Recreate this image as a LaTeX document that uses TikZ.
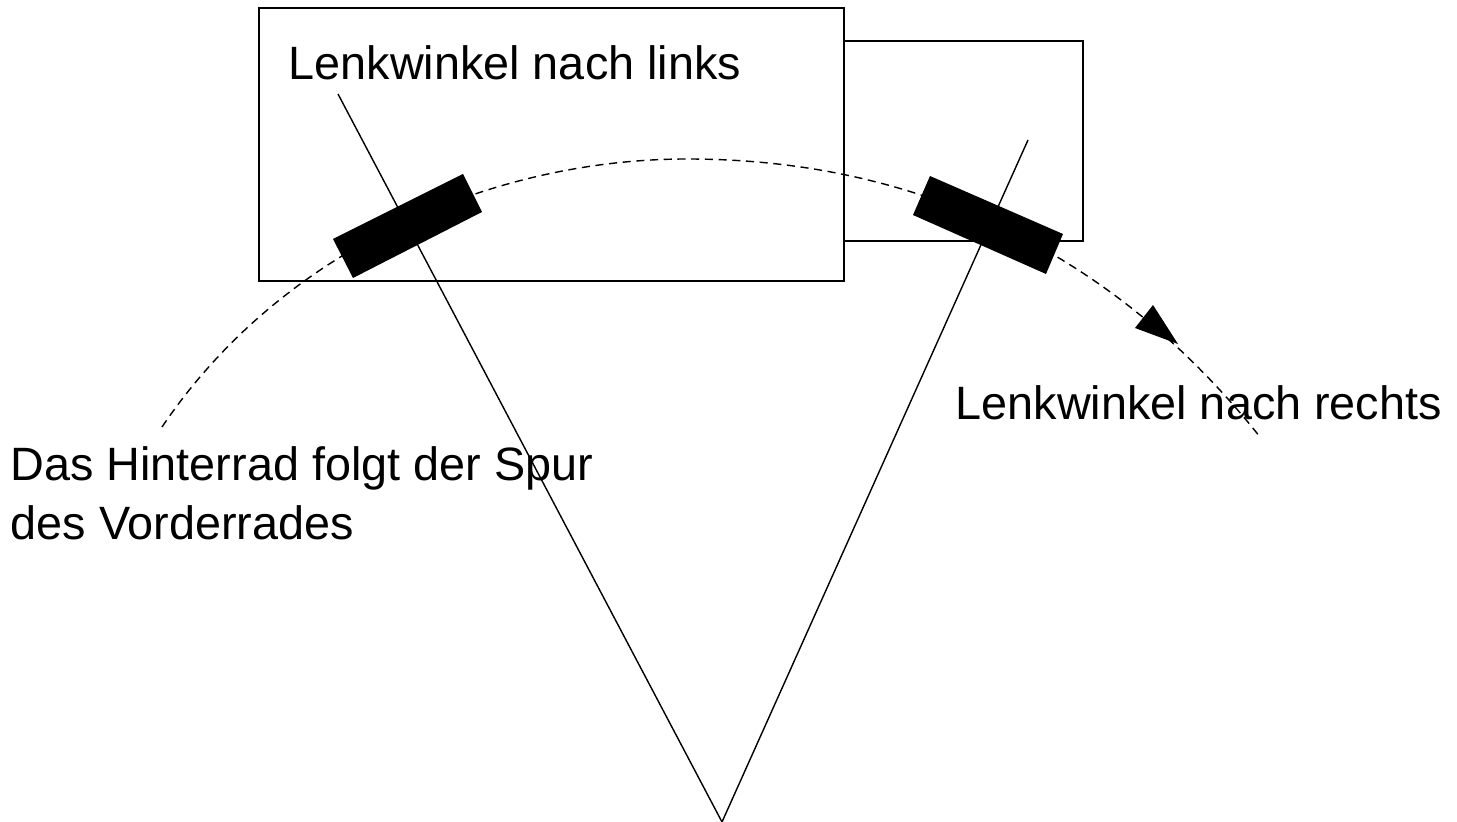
\documentclass[tikz,border=0pt]{standalone}
\usepackage{fontspec}
\setmainfont{Liberation Sans}
\usetikzlibrary{calc}

\tikzset{
  plain/.style={line width=0.4pt},
  label/.style={anchor=base west,inner sep=0pt,align=left,font=\fontsize{13.3}{16.8}\selectfont},
  spur/.style={line width=0.4pt,dash pattern=on 2.3pt off 1.6pt}
}

\begin{document}
\begin{tikzpicture}[x=0.01cm,y=-0.01cm]
    \useasboundingbox (0,0) rectangle (1457,822);
    \coordinate (R0) at (259,8);
    \coordinate (R1) at (844,281);
    \coordinate (V0) at (844,41);
    \coordinate (V1) at (1083,241);
    \coordinate (M) at (722,822);
    \coordinate (L) at (338,94);
    \coordinate (K) at (1028,140);
    \coordinate (H0) at (333,239);
    \coordinate (H1) at (463,174);
    \coordinate (H2) at (482,212);
    \coordinate (H3) at (353,278);
    \coordinate (W0) at (930,176);
    \coordinate (W1) at (1063,234);
    \coordinate (W2) at (1046,274);
    \coordinate (W3) at (913,215);
    \coordinate (T0) at (1153,305);
    \coordinate (T1) at (1135,328);
    \coordinate (T2) at (1178,344);
    \coordinate (S0) at (162,427);
    \coordinate (S1) at (687,159);
    \coordinate (S2) at (1260,437);
      \draw [plain] (R0) rectangle (R1);
      \draw [plain] (V0) -- (V1 |- V0) -- (V1) -- (V0 |- V1);
      \draw [plain] (L) -- (M);
      \draw [plain] (K) -- (M);
      \draw [spur] (S0) .. controls (285,245) and (497,159) .. (S1)
        .. controls (930,159) and (1122,263) .. (S2);
      \fill (H0) -- (H1) -- (H2) -- (H3) -- cycle;
      \fill (W0) -- (W1) -- (W2) -- (W3) -- cycle;
      \fill (T0) -- (T1) -- (T2) -- cycle;
      \node [label] (links) at (288,79.5) {Lenkwinkel nach links};
      \node [label] (rechts) at (955,420) {Lenkwinkel nach rechts};
      \node [label] (spurtext) at (10,539.5) {Das Hinterrad folgt der Spur\\des Vorderrades};
  \end{tikzpicture}
\end{document}
